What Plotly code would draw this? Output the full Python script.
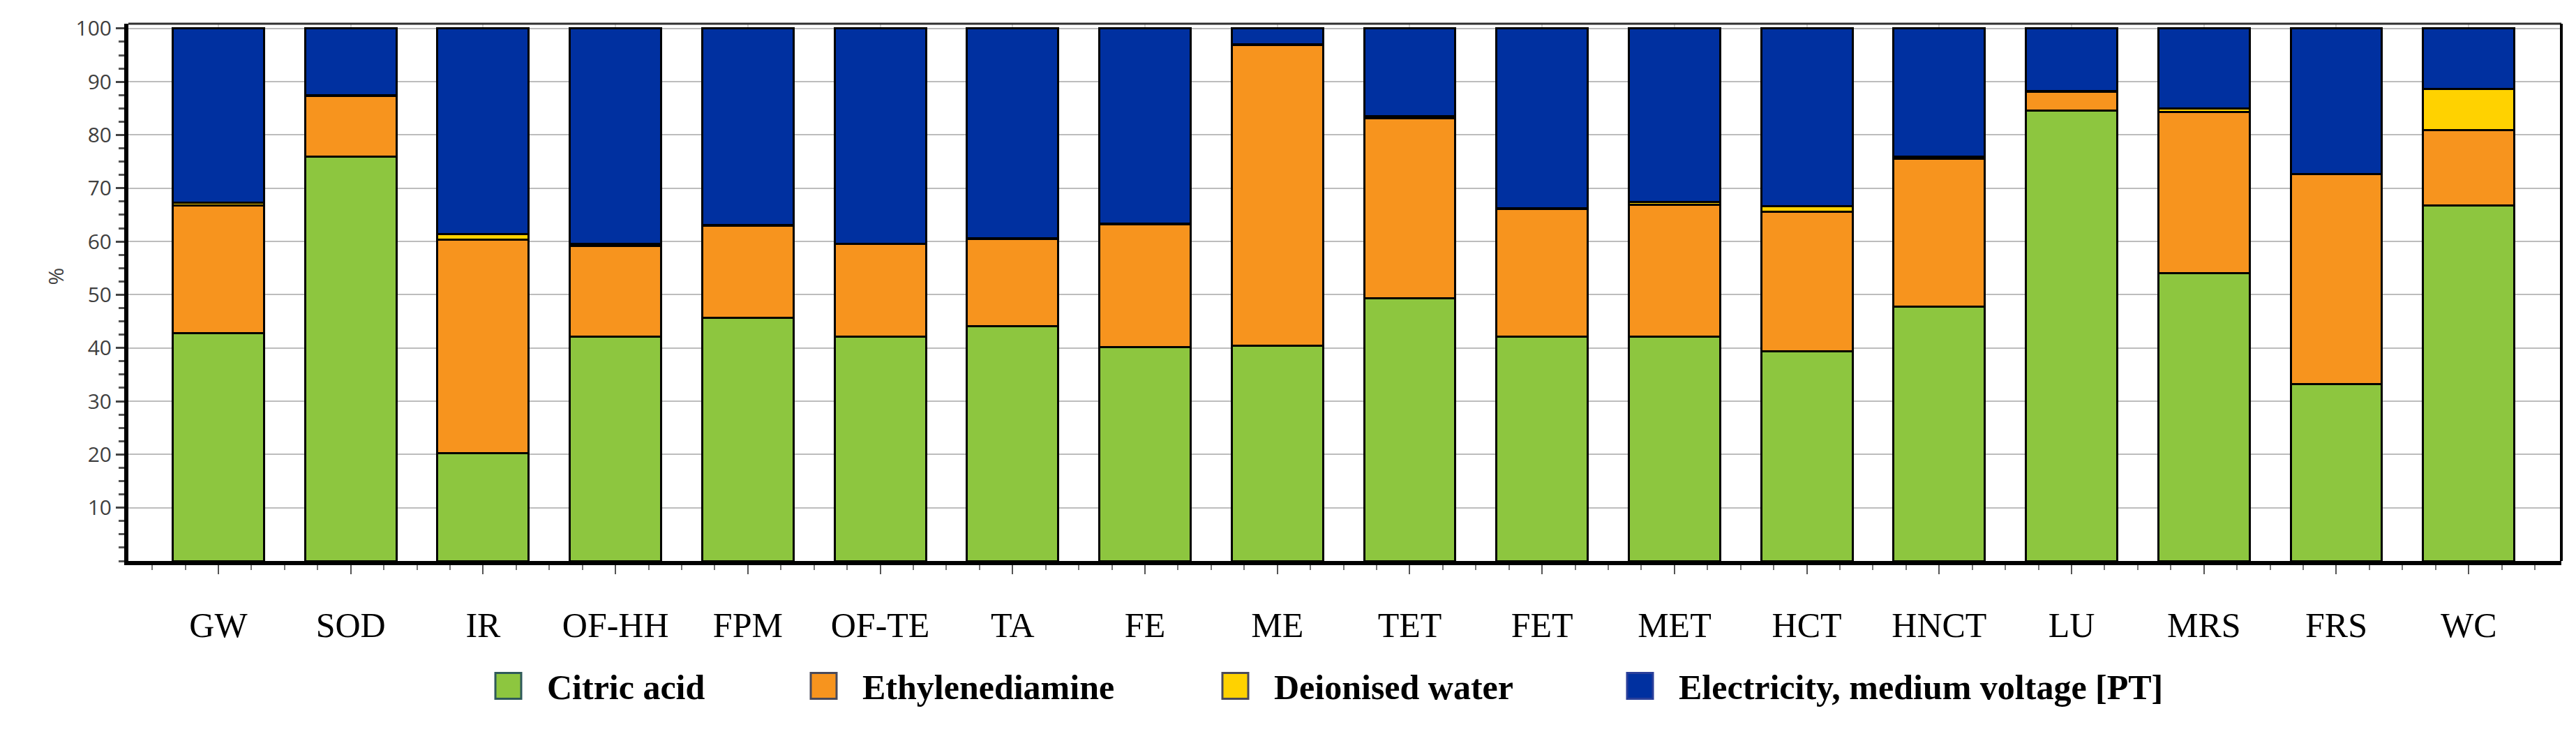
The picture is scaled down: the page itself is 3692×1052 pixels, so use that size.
import plotly.graph_objects as go

# stacked shares (%) per case
categories = ["GW", "SOD", "IR", "OF-HH", "FPM", "OF-TE", "TA", "FE", "ME",
              "TET", "FET", "MET", "HCT", "HNCT", "LU", "MRS", "FRS", "WC"]

citric_acid = [42.8, 76.0, 20.3, 42.1, 45.7, 42.1, 44.1, 40.1, 40.4,
               49.3, 42.1, 42.1, 39.4, 47.7, 84.6, 54.0, 33.2, 66.8]
ethylenediamine = [24.0, 11.3, 40.0, 17.0, 17.3, 17.4, 16.4, 23.1, 56.5,
                   33.8, 24.0, 24.8, 26.2, 27.9, 3.5, 30.3, 39.4, 14.1]
deionised_water = [0.5, 0.2, 1.1, 0.5, 0.1, 0.1, 0.1, 0.1, 0.1,
                   0.4, 0.1, 0.5, 1.0, 0.4, 0.1, 0.7, 0.1, 7.8]
electricity = [32.7, 12.5, 38.6, 40.4, 36.9, 40.4, 39.4, 36.7, 3.0,
               16.5, 33.8, 32.6, 33.4, 24.0, 11.8, 15.0, 27.3, 11.3]

series_names = ["Citric acid", "Ethylenediamine", "Deionised water",
                "Electricity, medium voltage [PT]"]
series_values = [citric_acid, ethylenediamine, deionised_water, electricity]
colors = ["#8dc63f", "#f7941e", "#ffd200", "#0030a0"]
legend_edges = ["#2f5a5a", "#4a4a5a", "#4a4a5a", "#2a3f9a"]

y_ticks = [10, 20, 30, 40, 50, 60, 70, 80, 90, 100]

W, H = 3692, 1052
L, R, T, B = 176, 29, 26, 256
plot_w = W - L - R
plot_h = H - T - B


def px_x(px):
    return (px - L) / plot_w


def px_y(py):
    return (H - B - py) / plot_h


x_pos = list(range(len(categories)))

fig = go.Figure()
for name, vals, col in zip(series_names, series_values, colors):
    fig.add_trace(go.Bar(
        x=x_pos, y=vals, name=name, width=0.69,
        marker=dict(color=col, line=dict(color="black", width=3)),
        showlegend=False,
    ))

fig.update_layout(
    width=W, height=H,
    barmode="stack",
    plot_bgcolor="white", paper_bgcolor="white",
    margin=dict(l=L, r=R, t=T, b=B),
    font=dict(family="Open Sans", size=30, color="#404040"),
)

fig.update_xaxes(
    range=[-0.68, 17.70],
    tickmode="array", tickvals=x_pos, ticktext=categories,
    tickfont=dict(family="Liberation Serif", size=50, color="black"),
    ticks="outside", ticklen=13, tickwidth=2, tickcolor="#555",
    ticklabelstandoff=30,
    minor=dict(tickmode="linear", tick0=0, dtick=0.25, ticks="outside",
               ticklen=7, tickwidth=2, tickcolor="#777", showgrid=False),
    showline=True, linewidth=6, linecolor="black",
    showgrid=True, gridcolor="#d6d6d6", gridwidth=2,
    zeroline=False,
)

fig.update_yaxes(
    range=[0, 100.9],
    tickmode="array", tickvals=y_ticks,
    tickfont=dict(family="Open Sans", size=30, color="#404040"),
    ticks="outside", ticklen=12, tickwidth=3, tickcolor="#444",
    minor=dict(tickmode="linear", tick0=0, dtick=2.5, ticks="outside",
               ticklen=8, tickwidth=3, tickcolor="#555", showgrid=False),
    showline=True, linewidth=6, linecolor="black",
    showgrid=True, gridcolor="#bdbdbd", gridwidth=2,
    zeroline=False,
)

# top and right frame
fig.add_shape(type="line", xref="paper", yref="paper", x0=0, x1=1, y0=1, y1=1,
              line=dict(color="#303030", width=3))
fig.add_shape(type="line", xref="paper", yref="paper", x0=1, x1=1, y0=0, y1=1,
              line=dict(color="black", width=4))

# y-axis unit
fig.add_annotation(text="%", xref="paper", yref="paper",
                   x=px_x(48), y=px_y(388), showarrow=False, textangle=-90,
                   font=dict(family="Open Sans", size=30, color="#404040"))

# legend drawn by hand so the swatches can be large
sq_left = [702, 1154, 1744, 2324]
sq = 37
leg_y = 975
for left, name, col, edge in zip(sq_left, series_names, colors, legend_edges):
    fig.add_shape(type="rect", xref="paper", yref="paper",
                  x0=px_x(left), x1=px_x(left + sq),
                  y0=px_y(leg_y + sq / 2), y1=px_y(leg_y - sq / 2),
                  fillcolor=col, line=dict(color=edge, width=3))
    fig.add_annotation(text="<b>" + name + "</b>", xref="paper", yref="paper",
                       x=px_x(left + 72), y=px_y(leg_y + 2),
                       xanchor="left", yanchor="middle", showarrow=False,
                       font=dict(family="Liberation Serif", size=50, color="black"))

fig.write_html("out.html")
